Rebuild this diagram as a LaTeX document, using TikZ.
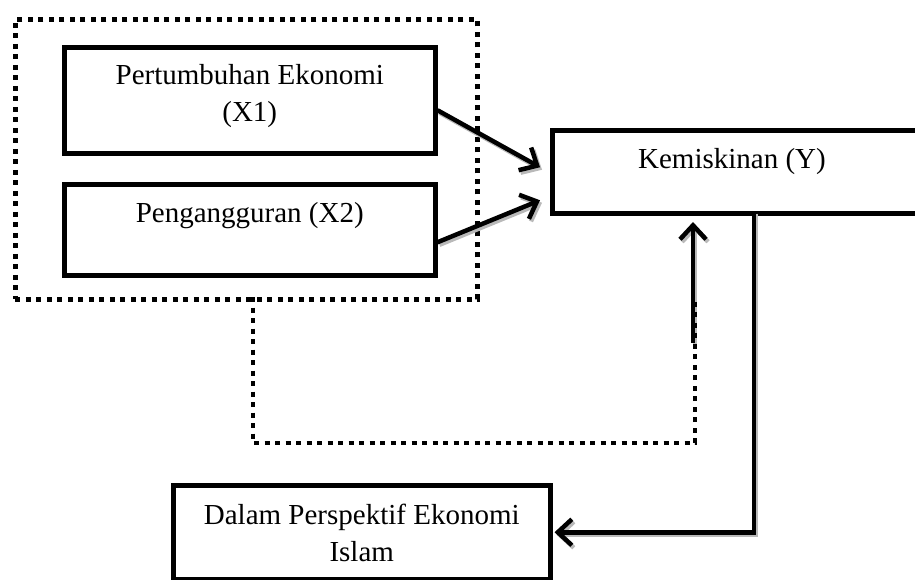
\documentclass[tikz,border=0pt]{standalone}
\usepackage{fontspec}
\setmainfont{Liberation Serif}
\usetikzlibrary{arrows.meta,calc}
\begin{document}
\begin{tikzpicture}[x=1pt,y=-1pt,
  box/.style={draw,line width=4.5pt,inner sep=0pt,anchor=north west},
  lbl/.style={font=\fontsize{29}{37}\selectfont,align=center,inner sep=0pt},
  arr/.style={line width=4.5pt,-{Straight Barb[length=14pt,width=26pt,line width=4.5pt]}},
  shade/.style={draw=gray!55,transform canvas={xshift=2pt,yshift=-2.5pt}},
  dotline/.style={line width=4.5pt,dash pattern=on 5pt off 5.5pt}]
\useasboundingbox (0,0) rectangle (915,579);

% dotted group box
\node[box,dotline,minimum width=462pt,minimum height=280pt] (grp) at (13,17) {};

% boxes
\node[box,minimum width=371pt,minimum height=106pt] (x1) at (62,45) {};
\node[box,minimum width=371pt,minimum height=91pt] (x2) at (62,182) {};
\node[box,minimum width=372pt,minimum height=83pt] (k) at (550,128) {};
\node[box,minimum width=377pt,minimum height=94pt] (isl) at (171,483) {};

% texts
\node[lbl] (tx1) at ($(x1.center)+(0,-4)$) {Pertumbuhan Ekonomi\\(X1)};
\node[lbl] (tx2) at ($(x2.center)+(0,-14)$) {Pengangguran (X2)};
\node[lbl] (tk) at (732,162) {Kemiskinan (Y)};
\node[lbl] (tisl) at ($(isl.center)+(0,1)$) {Dalam Perspektif Ekonomi\\Islam};

% coordinates
\coordinate (dstart) at (253,297);
\coordinate (dcorner) at (253,443);
\coordinate (dcorner2) at (695,443);
\coordinate (dend) at (695,300);
\coordinate (up0) at (693,343);
\coordinate (up1) at (693,222);
\coordinate (kdown) at (754,211);

% shadows of connectors
\draw[arr,shade] ([yshift=-10pt]x1.east) -- ([xshift=-10pt,yshift=4.5pt]k.west);
\draw[arr,shade] ([yshift=-12.5pt]x2.east) -- ([xshift=-10pt,yshift=-28.5pt]k.west);
\draw[arr,shade] (up0) -- (up1);
\draw[arr,shade] (kdown) |- ([xshift=2pt]isl.east);

% dotted feedback path
\draw[dotline] (dstart) -- (dcorner) -- (dcorner2) -- (dend);

% arrows into Kemiskinan
\draw[arr] ([yshift=-10pt]x1.east) -- ([xshift=-10pt,yshift=4.5pt]k.west);
\draw[arr] ([yshift=-12.5pt]x2.east) -- ([xshift=-10pt,yshift=-28.5pt]k.west);

% upward arrow
\draw[arr] (up0) -- (up1);

% Kemiskinan to Islam
\draw[arr] (kdown) |- ([xshift=2pt]isl.east);
\end{tikzpicture}
\end{document}
